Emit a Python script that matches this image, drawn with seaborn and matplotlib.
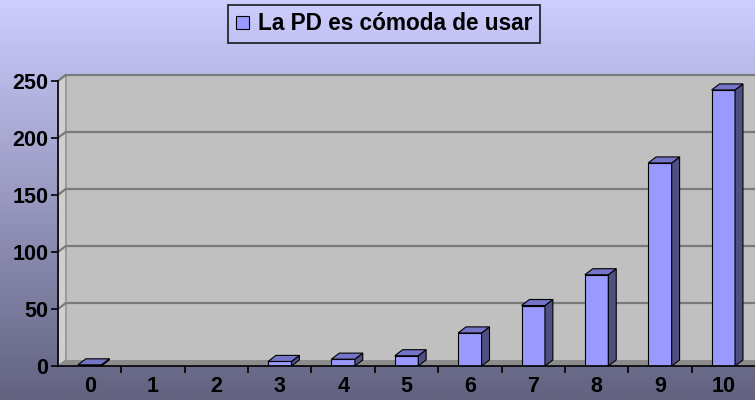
import numpy as np
import pandas as pd
import matplotlib
matplotlib.use('Agg')
import matplotlib.pyplot as plt
from matplotlib.patches import Polygon
import seaborn as sns

# values
categories = ['0', '1', '2', '3', '4', '5', '6', '7', '8', '9', '10']
counts = [1, 0, 0, 4, 6, 9, 29, 53, 80, 178, 242]
y_ticks = [0, 50, 100, 150, 200, 250]
legend_label = 'La PD es cómoda de usar'

FACE = '#9999ff'
SIDE = '#4f4f82'
TOP = '#7474c8'

sns.set_theme(style='white')
plt.rcParams['font.family'] = ['Liberation Sans', 'DejaVu Sans']
plt.rcParams['font.weight'] = 'bold'
plt.rcParams['text.color'] = 'black'
plt.rcParams['xtick.color'] = 'black'
plt.rcParams['ytick.color'] = 'black'

df = pd.DataFrame({'score': categories, 'n': counts})

fig = plt.figure(figsize=(7.55, 4.0), dpi=100)

# gradient background
bg = fig.add_axes([0, 0, 1, 1], zorder=-10)
top_c = np.array([205, 205, 255]) / 255
bot_c = np.array([98, 98, 128]) / 255
t = np.linspace(0, 1, 256)[:, None]
grad = (1 - t) * top_c + t * bot_c
bg.imshow(grad[:, None, :], aspect='auto', extent=[0, 1, 0, 1])
bg.axis('off')

ax = fig.add_axes([58 / 755, 34 / 400, 697 / 755, 292 / 400])
ax.patch.set_alpha(0)

ymax = 256
dx, dy = 0.125, 5.3
xl, xr = -0.5, 10.5
ax.set_xlim(xl, xr)
ax.set_ylim(0, ymax)

# walls
ax.add_patch(Polygon([(xl + dx, dy), (xr + 1, dy), (xr + 1, ymax), (xl + dx, ymax)],
                     closed=True, facecolor='#c0c0c0', edgecolor='none', zorder=0))
ax.add_patch(Polygon([(xl, 0), (xl + dx, dy), (xl + dx, 250 + dy), (xl, 250)],
                     closed=True, facecolor='#cfcfcf', edgecolor='#8a8a8a', lw=1, zorder=0.5))
ax.add_patch(Polygon([(xl, 0), (xr + 1, 0), (xr + 1, dy), (xl + dx, dy)],
                     closed=True, facecolor='#8c8c8c', edgecolor='none', zorder=0.5))
for v in y_ticks[1:]:
    ax.plot([xl + dx, xr + 1], [v + dy, v + dy], color='#7a7a7a', lw=1.6, zorder=0.6)
    ax.plot([xl, xl + dx], [v, v + dy], color='#7a7a7a', lw=1.6, zorder=0.6)

sns.barplot(data=df, x='score', y='n', color=FACE, width=0.37, saturation=1,
            edgecolor='black', linewidth=0.8, label=legend_label, ax=ax, zorder=3)

# 3d side and top faces
bars = [p for p in ax.patches if p.get_zorder() == 3]
for p, v in zip(bars, counts):
    if v <= 0:
        continue
    x0 = p.get_x()
    x1 = x0 + p.get_width()
    h = p.get_height()
    side = Polygon([(x1, 0), (x1 + dx, dy), (x1 + dx, h + dy), (x1, h)], closed=True,
                   facecolor=SIDE, edgecolor='black', lw=0.8, zorder=3)
    top = Polygon([(x0, h), (x0 + dx, h + dy), (x1 + dx, h + dy), (x1, h)], closed=True,
                  facecolor=TOP, edgecolor='black', lw=0.8, zorder=3)
    ax.add_patch(side)
    ax.add_patch(top)

for s in ['top', 'right']:
    ax.spines[s].set_visible(False)
ax.spines['left'].set_bounds(0, 250)
for s in ['left', 'bottom']:
    ax.spines[s].set_color('black')
    ax.spines[s].set_linewidth(1.2)
    ax.spines[s].set_zorder(4)

ax.set_yticks(y_ticks)
ax.set_yticklabels([str(v) for v in y_ticks], fontsize=15.5, fontweight='bold', color='black')
ax.set_xticks(range(len(categories)))
ax.set_xticklabels(categories, fontsize=15.5, fontweight='bold', color='black')
ax.set_xticks(np.arange(0.5, len(categories) - 0.5, 1), minor=True)
ax.tick_params(axis='y', which='major', left=True, length=5, width=1.2, color='black', pad=2)
ax.tick_params(axis='x', which='major', bottom=False, pad=1)
ax.tick_params(axis='x', which='minor', bottom=True, length=5, width=1.2, color='black')
ax.set_xlabel('')
ax.set_ylabel('')

leg = ax.legend(loc='center', bbox_to_anchor=(0.509, 0.94), bbox_transform=fig.transFigure,
                frameon=True, fancybox=False, prop={'size': 16.3, 'weight': 'bold'},
                handlelength=0.55, handleheight=0.55, handletextpad=0.4,
                borderpad=0.35, borderaxespad=0)
leg.get_frame().set_edgecolor('black')
leg.get_frame().set_linewidth(1.3)
leg.get_frame().set_facecolor('none')
for txt in leg.get_texts():
    txt.set_color('black')

fig.savefig('out.png', dpi=100)
